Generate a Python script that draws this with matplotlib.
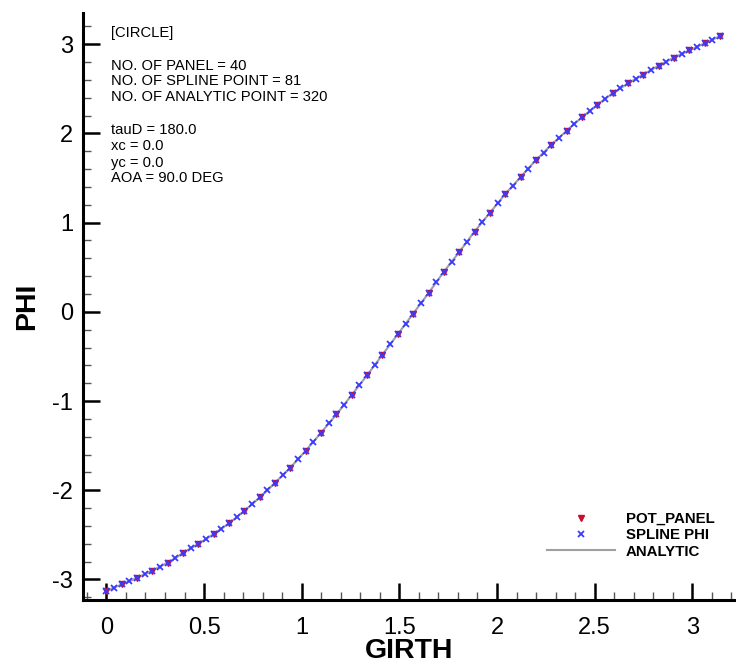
import numpy as np
import matplotlib
matplotlib.use("Agg")
import matplotlib.pyplot as plt
from matplotlib.ticker import MultipleLocator

plt.rcParams['font.family'] = ['Liberation Sans', 'DejaVu Sans']
plt.rcParams['axes.unicode_minus'] = False

# potential on the 40 panel nodes, girth 0..pi
pot_panel = [-3.13, -3.055, -2.98, -2.90, -2.81, -2.70, -2.60, -2.49, -2.37, -2.23,
             -2.08, -1.915, -1.745, -1.555, -1.355, -1.15, -0.93, -0.71, -0.48, -0.25,
             -0.02, 0.21, 0.45, 0.67, 0.90, 1.11, 1.32, 1.51, 1.70, 1.87,
             2.03, 2.18, 2.32, 2.45, 2.56, 2.66, 2.76, 2.85, 2.93, 3.01, 3.09]

# spline phi, 81 points
spline_phi = [-3.13, -3.09, -3.055, -3.02, -2.98, -2.94, -2.90, -2.855, -2.81, -2.76,
              -2.70, -2.65, -2.60, -2.545, -2.49, -2.43, -2.37, -2.30, -2.23, -2.155,
              -2.08, -2.00, -1.915, -1.83, -1.745, -1.65, -1.555, -1.455, -1.355, -1.25,
              -1.15, -1.04, -0.93, -0.82, -0.71, -0.595, -0.48, -0.365, -0.25, -0.135,
              -0.02, 0.095, 0.21, 0.33, 0.45, 0.56, 0.67, 0.785, 0.90, 1.005,
              1.11, 1.215, 1.32, 1.415, 1.51, 1.605, 1.70, 1.785, 1.87, 1.95,
              2.03, 2.105, 2.18, 2.25, 2.32, 2.385, 2.45, 2.505, 2.56, 2.61,
              2.66, 2.71, 2.76, 2.805, 2.85, 2.89, 2.93, 2.97, 3.01, 3.05, 3.09]

girth_panel = np.linspace(0, np.pi, len(pot_panel))
girth_spline = np.linspace(0, np.pi, len(spline_phi))

info_lines = [("[CIRCLE]", 32.7),
              ("NO. OF PANEL = 40", 65.7),
              ("NO. OF SPLINE POINT = 81", 81.2),
              ("NO. OF ANALYTIC POINT = 320", 96.7),
              ("tauD = 180.0", 130.0),
              ("xc = 0.0", 146.0),
              ("yc = 0.0", 162.5),
              ("AOA = 90.0 DEG", 178.3)]

W, H = 736, 665
fig = plt.figure(figsize=(W / 100, H / 100), dpi=100)
ax = fig.add_axes([83 / W, (H - 600) / H, (W - 83) / W, (600 - 13) / H])

ax.plot(girth_spline, spline_phi, color='#a0a0a0', lw=1.5, label='ANALYTIC', zorder=2)
ax.plot(girth_panel, pot_panel, ls='none', marker='v', ms=4.5, color='#c8102e',
        label='POT_PANEL', zorder=3)
ax.plot(girth_spline, spline_phi, ls='none', marker='x', ms=3.8, mew=1.3, color='#3a3aff',
        label='SPLINE PHI', zorder=4)

ax.set_xlim(-0.12, 3.224)
ax.set_ylim(-3.23, 3.35)

for s in ['top', 'right']:
    ax.spines[s].set_visible(False)
for s in ['left', 'bottom']:
    ax.spines[s].set_linewidth(2.2)

ax.xaxis.set_major_locator(MultipleLocator(0.5))
ax.xaxis.set_minor_locator(MultipleLocator(0.1))
ax.yaxis.set_major_locator(MultipleLocator(1))
ax.yaxis.set_minor_locator(MultipleLocator(0.2))
ax.tick_params(which='major', direction='in', length=12, width=1.8, labelsize=17)
ax.tick_params(which='minor', direction='in', length=5.5, width=1.0, color='#555555')
ax.tick_params(axis='x', which='major', pad=12)
ax.tick_params(axis='y', which='major', pad=7)
ax.set_xticks([0, 0.5, 1, 1.5, 2, 2.5, 3])
ax.set_xticklabels(['0', '0.5', '1', '1.5', '2', '2.5', '3'])

ax.set_xlabel('GIRTH', fontsize=20.5, fontweight='bold', labelpad=-0.5)
ax.set_ylabel('PHI', fontsize=20.5, fontweight='bold', labelpad=9)

for txt, ypix in info_lines:
    fig.text(111 / W, 1 - ypix / H, txt, fontsize=10.6, ha='left', va='center')

handles, labels = ax.get_legend_handles_labels()
order = [1, 2, 0]
leg = ax.legend([handles[i] for i in order], [labels[i] for i in order],
                loc='upper left', bbox_to_anchor=(547 / W, 1 - 512 / H),
                bbox_transform=fig.transFigure, frameon=False, borderpad=0,
                borderaxespad=0, handlelength=4.5, handletextpad=0.75,
                labelspacing=0.15, prop={'size': 10.8, 'weight': 'bold'})

fig.savefig('out.png', dpi=100)
